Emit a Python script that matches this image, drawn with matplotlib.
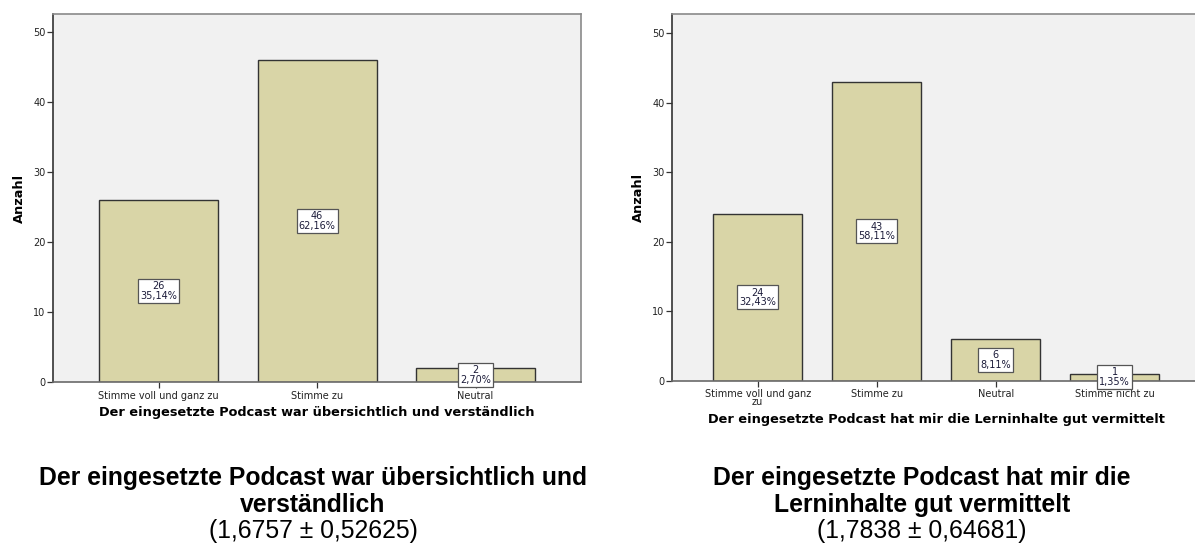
import matplotlib
matplotlib.use('Agg')
import matplotlib.pyplot as plt

# chart 1
cats_1 = ['Stimme voll und ganz zu', 'Stimme zu', 'Neutral']
counts_1 = [26, 46, 2]
pcts_1 = ['35,14%', '62,16%', '2,70%']
xlabel_1 = 'Der eingesetzte Podcast war übersichtlich und verständlich'
title_1 = ['Der eingesetzte Podcast war übersichtlich und', 'verständlich']
stats_1 = '(1,6757 ± 0,52625)'

# chart 2
cats_2 = ['Stimme voll und ganz\nzu', 'Stimme zu', 'Neutral', 'Stimme nicht zu']
counts_2 = [24, 43, 6, 1]
pcts_2 = ['32,43%', '58,11%', '8,11%', '1,35%']
xlabel_2 = 'Der eingesetzte Podcast hat mir die Lerninhalte gut vermittelt'
title_2 = ['Der eingesetzte Podcast hat mir die', 'Lerninhalte gut vermittelt']
stats_2 = '(1,7838 ± 0,64681)'

yticks = [0, 10, 20, 30, 40, 50]

BAR = '#d9d5a7'
BG = '#f1f1f1'
W, H = 1195, 549


def spss_bar(ax, cats, counts, pcts, xlabel, ytop, xpad, label_y):
    x = list(range(len(cats)))
    ax.set_facecolor(BG)
    ax.bar(x, counts, width=0.75, color=BAR, edgecolor='#333333', linewidth=1.0, zorder=2)
    for xi, c, p in zip(x, counts, pcts):
        ax.text(xi, c / 2, f'{c}\n{p}', ha='center', va='center', fontsize=7,
                color='#1c1c3a', linespacing=0.95, zorder=3,
                bbox=dict(boxstyle='square,pad=0.22', fc='white', ec='#555555', lw=0.9))
    ax.set_xlim(-xpad, len(cats) - 1 + xpad)
    ax.set_ylim(0, ytop)
    ax.set_yticks(yticks)
    ax.set_xticks(x)
    ax.set_xticklabels(cats, fontsize=7, color='#222222', linespacing=0.8)
    ax.tick_params(axis='y', labelsize=7, labelcolor='#222222', length=4.5, width=0.9,
                   color='#333333', pad=1)
    ax.tick_params(axis='x', length=4.5, width=0.9, color='#333333', pad=1.5)
    for s in ['top', 'right']:
        ax.spines[s].set_color('#8a8a8a')
        ax.spines[s].set_linewidth(1.2)
    ax.spines['left'].set_color('#333333')
    ax.spines['left'].set_linewidth(1.2)
    ax.spines['bottom'].set_color('#6a6a6a')
    ax.spines['bottom'].set_linewidth(1.2)
    ax.set_ylabel('Anzahl', fontsize=9.3, fontweight='bold', labelpad=5)
    ax.set_xlabel(xlabel, fontsize=9.3, fontweight='bold')
    ax.xaxis.set_label_coords(0.5, label_y)


fig = plt.figure(figsize=(W / 100, H / 100), dpi=100)

ax1 = fig.add_axes([53.3 / W, 1 - 382.3 / H, (581 - 53.3) / W, (382.3 - 14) / H])
spss_bar(ax1, cats_1, counts_1, pcts_1, xlabel_1, 52.6, 0.666, -0.063)

ax2 = fig.add_axes([672 / W, 1 - 380.7 / H, (1200.5 - 672) / W, (380.7 - 14.3) / H])
spss_bar(ax2, cats_2, counts_2, pcts_2, xlabel_2, 52.75, 0.72, -0.0895)

for cx, t, s in [(313, title_1, stats_1), (922, title_2, stats_2)]:
    fig.text(cx / W, 1 - 478 / H, t[0], ha='center', va='center', fontsize=17.8,
             fontweight='bold', family='Liberation Sans')
    fig.text(cx / W, 1 - 505 / H, t[1], ha='center', va='center', fontsize=17.8,
             fontweight='bold', family='Liberation Sans')
    fig.text(cx / W, 1 - 531 / H, s, ha='center', va='center', fontsize=17.8,
             family='Liberation Sans')

fig.savefig('out.png', dpi=100)
